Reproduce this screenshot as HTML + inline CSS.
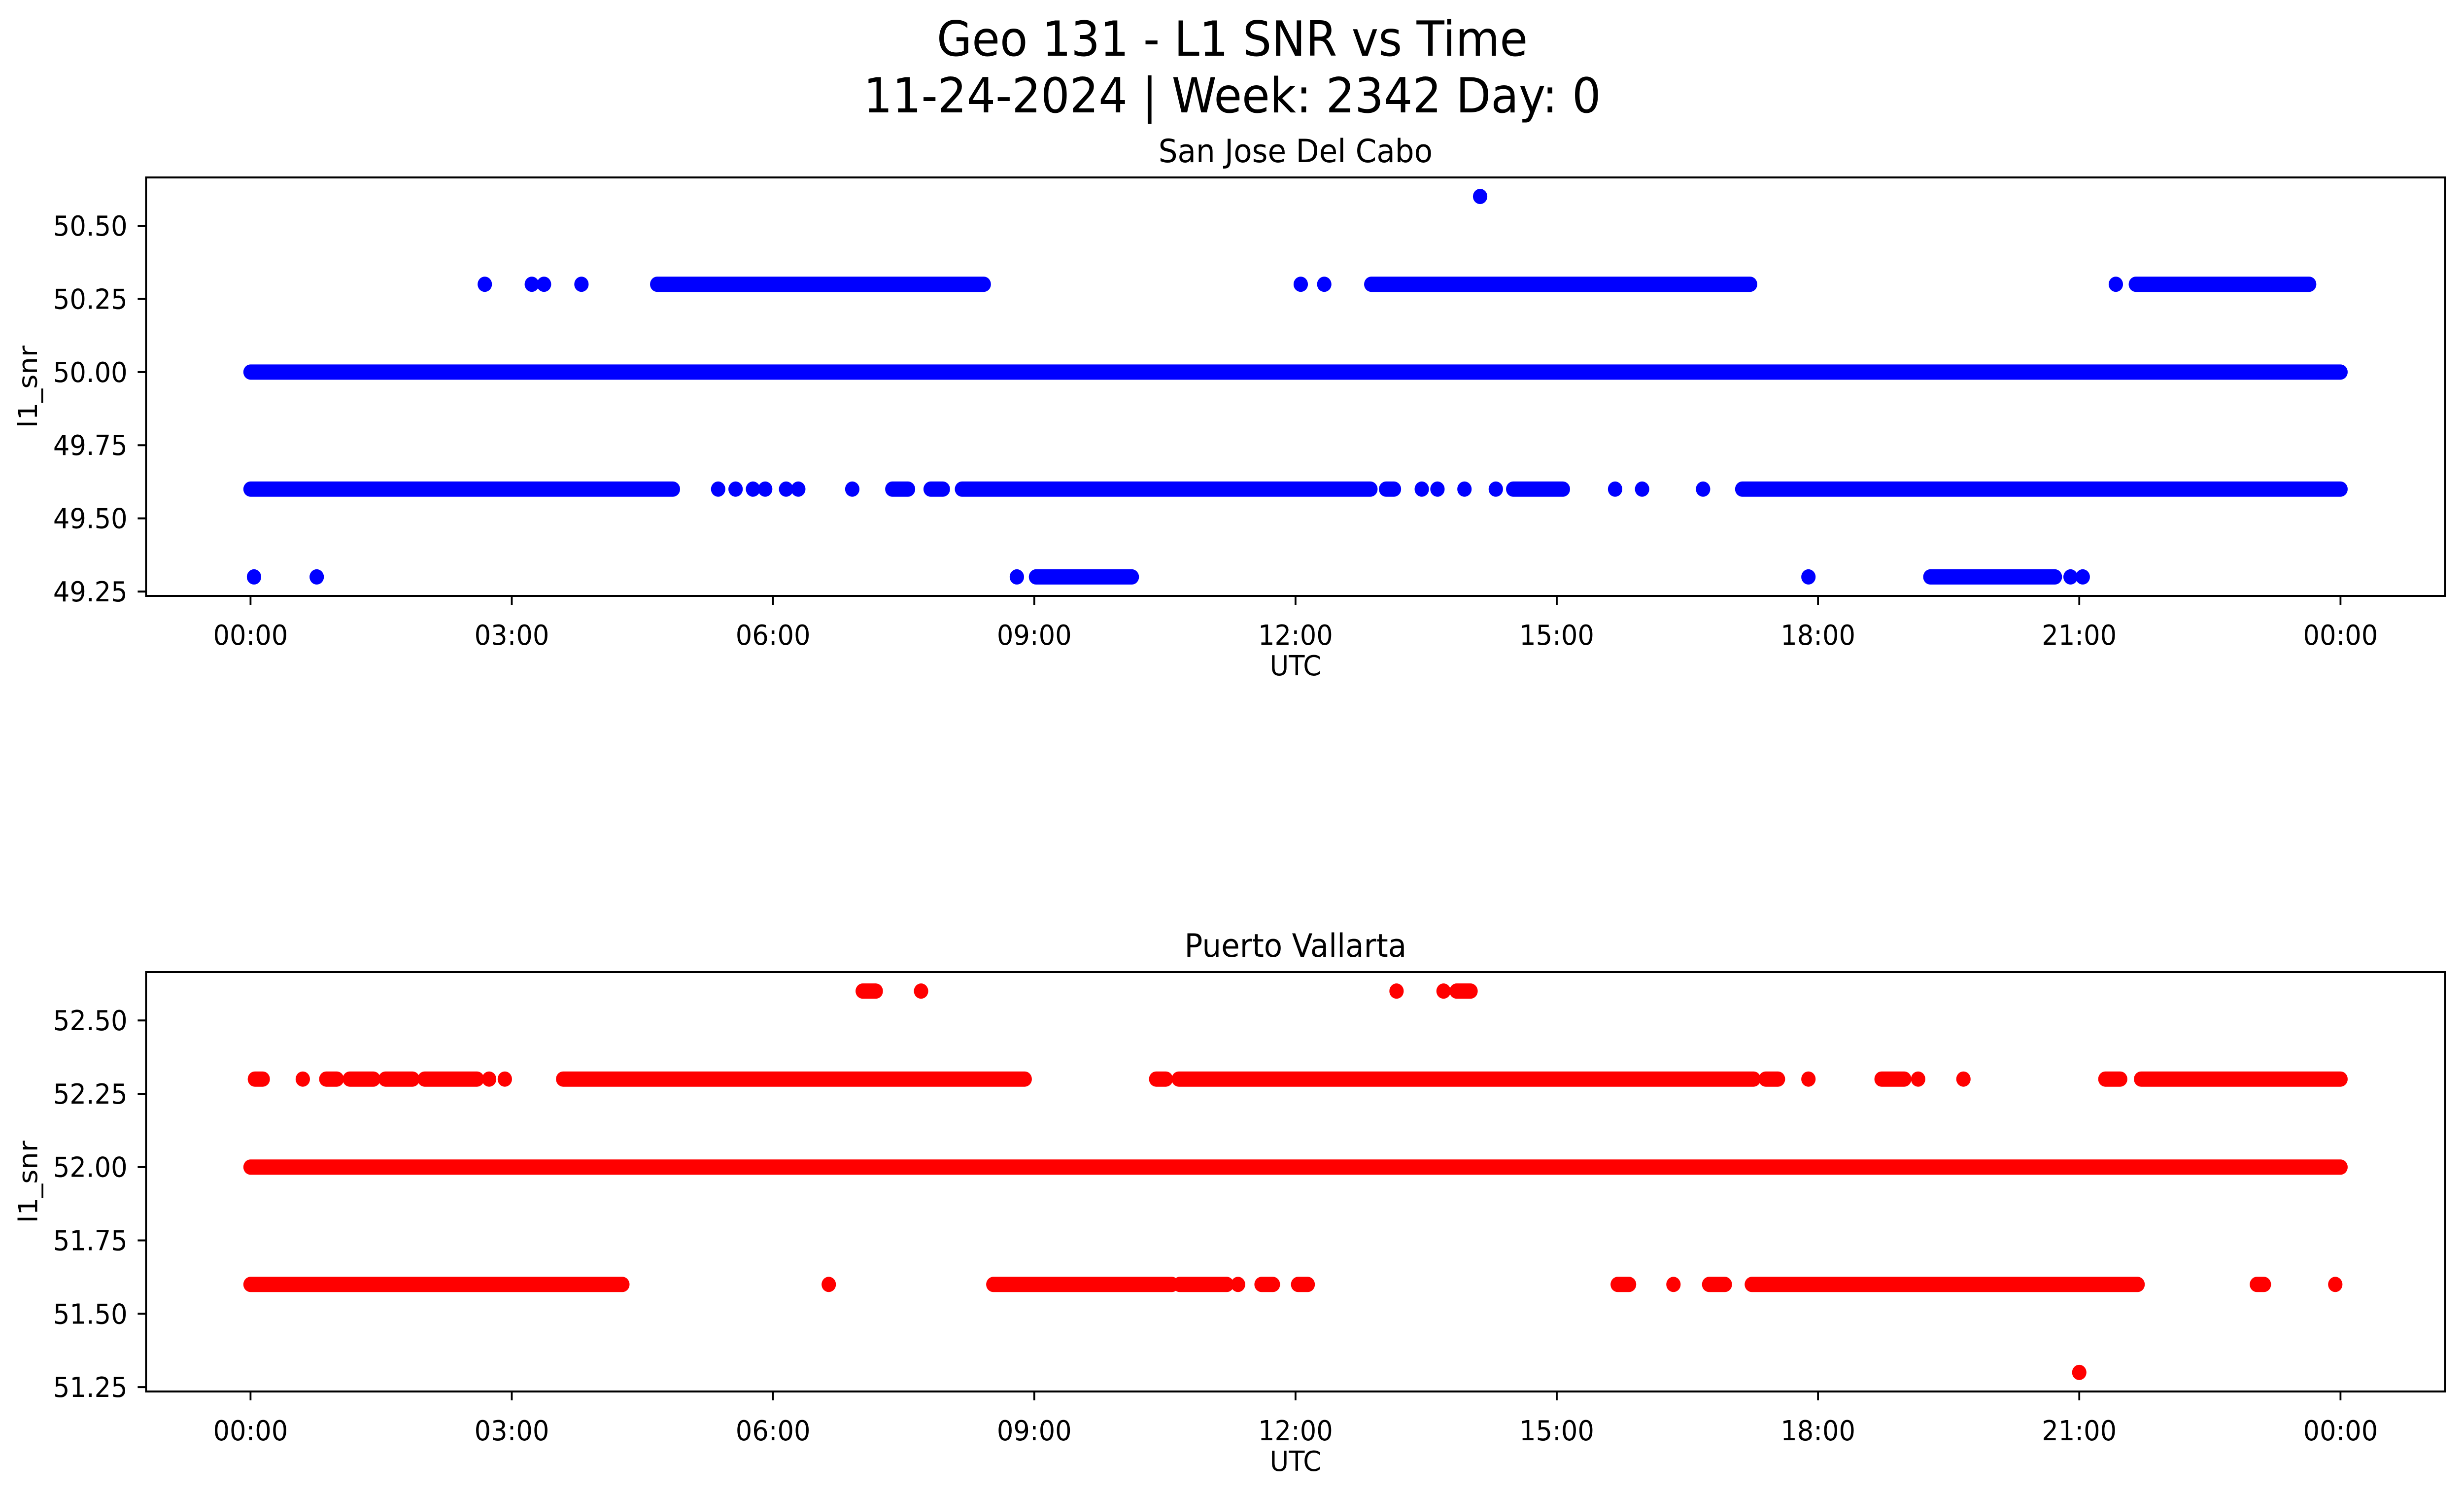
<!DOCTYPE html>
<html><head><meta charset="utf-8"><style>
html,body{margin:0;padding:0;background:#fff;width:100%;height:100%;overflow:hidden}
svg{display:block;width:100vw;height:100vh;font-family:"DejaVu Sans","Liberation Sans",sans-serif}
</style></head><body>
<svg id="fig" viewBox="0 0 5315 3033" preserveAspectRatio="none" xmlns="http://www.w3.org/2000/svg">
<rect width="5315" height="3033" fill="#fff"/>
<text x="2658" y="113" font-size="98" text-anchor="middle">Geo 131 - L1 SNR vs Time</text>
<text x="2658" y="228" font-size="98" text-anchor="middle">11-24-2024 | Week: 2342 Day: 0</text>
<g id="p1"></g>
<g id="p2"></g>
</svg>
<script>
// x ticks (hours)
const xTicks = [0,3,6,9,12,15,18,21,24];
const xTickLabels = ["00:00","03:00","06:00","09:00","12:00","15:00","18:00","21:00","00:00"];
// San Jose Del Cabo: runs [startHour,endHour] per SNR level
const sjLevels = [50.6, 50.3, 50.0, 49.6, 49.3];
const sjRuns = [
 [[14.12,14.12]],
 [[2.69,2.69],[3.23,3.23],[3.37,3.37],[3.8,3.8],[4.67,8.42],[12.06,12.06],[12.33,12.33],[12.87,17.22],[21.42,21.42],[21.65,23.64]],
 [[0,24]],
 [[0,4.85],[5.37,5.37],[5.57,5.57],[5.77,5.77],[5.91,5.91],[6.15,6.15],[6.29,6.29],[6.91,6.91],[7.37,7.55],[7.81,7.95],[8.17,12.86],[13.04,13.13],[13.45,13.45],[13.63,13.63],[13.94,13.94],[14.3,14.3],[14.5,15.07],[15.67,15.67],[15.98,15.98],[16.68,16.68],[17.13,24]],
 [[0.04,0.04],[0.76,0.76],[8.8,8.8],[9.02,10.12],[17.89,17.89],[19.29,20.72],[20.9,20.9],[21.04,21.04]]
];
const sjYTicks = [49.25,49.5,49.75,50.0,50.25,50.5];
const sjYLabels = ["49.25","49.50","49.75","50.00","50.25","50.50"];
// Puerto Vallarta
const pvLevels = [52.6, 52.3, 52.0, 51.6, 51.3];
const pvRuns = [
 [[7.03,7.18],[7.7,7.7],[13.16,13.16],[13.7,13.7],[13.85,14.01]],
 [[0.05,0.14],[0.6,0.6],[0.87,0.99],[1.14,1.41],[1.55,1.86],[2.0,2.6],[2.74,2.74],[2.92,2.92],[3.59,8.89],[10.4,10.51],[10.66,17.26],[17.4,17.54],[17.89,17.89],[18.73,18.99],[19.15,19.15],[19.67,19.67],[21.3,21.47],[21.71,24]],
 [[0,24]],
 [[0,4.27],[6.64,6.64],[8.53,10.58],[10.67,11.21],[11.34,11.34],[11.61,11.74],[12.03,12.14],[15.7,15.83],[16.34,16.34],[16.75,16.93],[17.24,21.67],[23.04,23.12],[23.94,23.94]],
 [[21.0,21.0]]
];
const pvYTicks = [51.25,51.5,51.75,52.0,52.25,52.5];
const pvYLabels = ["51.25","51.50","51.75","52.00","52.25","52.50"];

const NS="http://www.w3.org/2000/svg";
function mk(tag,attrs,parent,text){const e=document.createElementNS(NS,tag);for(const k in attrs)e.setAttribute(k,attrs[k]);if(text!==undefined)e.textContent=text;parent.appendChild(e);return e;}

function panel(g,top,bottom,levels,runs,yTicks,yLabels,color,title,prefix){
  const L=315,R=5274;
  const yMin=Math.min(...levels),yMax=Math.max(...levels),pad=(yMax-yMin)*0.05;
  const x=h=>L+(h+1.2)/26.4*(R-L);
  const y=v=>bottom-(v-(yMin-pad))/((yMax+pad)-(yMin-pad))*(bottom-top);
  const t=mk('text',{x:(L+R)/2,y:top-31,'font-size':65,'text-anchor':'middle'},g,title);
  
  
  levels.forEach((lv,i)=>{
    runs[i].forEach(r=>{
      const ln=mk('line',{x1:x(r[0]),x2:x(r[1]),y1:y(lv),y2:y(lv),stroke:color,'stroke-width':31,'stroke-linecap':'round'},g);
      
      
    });
  });
  const fr=mk('rect',{x:L,y:top,width:R-L,height:bottom-top,fill:'none',stroke:'#000','stroke-width':4},g);
  
  
  xTicks.forEach((h,i)=>{
    mk('line',{x1:x(h),x2:x(h),y1:bottom,y2:bottom+18,stroke:'#000','stroke-width':4},g);
    const tl=mk('text',{x:x(h),y:bottom+99,'font-size':56,'text-anchor':'middle'},g,xTickLabels[i]);
    
    
  });
  yTicks.forEach((v,i)=>{
    mk('line',{x1:L-18,x2:L,y1:y(v),y2:y(v),stroke:'#000','stroke-width':4},g);
    const tl=mk('text',{x:L-40,y:y(v)+20,'font-size':56,'text-anchor':'end'},g,yLabels[i]);
    
    
  });
  const xl=mk('text',{x:(L+R)/2,y:bottom+161,'font-size':56,'text-anchor':'middle'},g,'UTC');
  
  
  const cy=(top+bottom)/2;
  const yl=mk('text',{x:80,y:cy,'font-size':56,'text-anchor':'middle',transform:`rotate(-90 80 ${cy})`},g,'l1_snr');
  
  
}
panel(document.getElementById('p1'),360,1209,sjLevels,sjRuns,sjYTicks,sjYLabels,'#0000ff','San Jose Del Cabo','san-jose');
panel(document.getElementById('p2'),1972,2823,pvLevels,pvRuns,pvYTicks,pvYLabels,'#ff0000','Puerto Vallarta','puerto-vallarta');
</script>
</body></html>
